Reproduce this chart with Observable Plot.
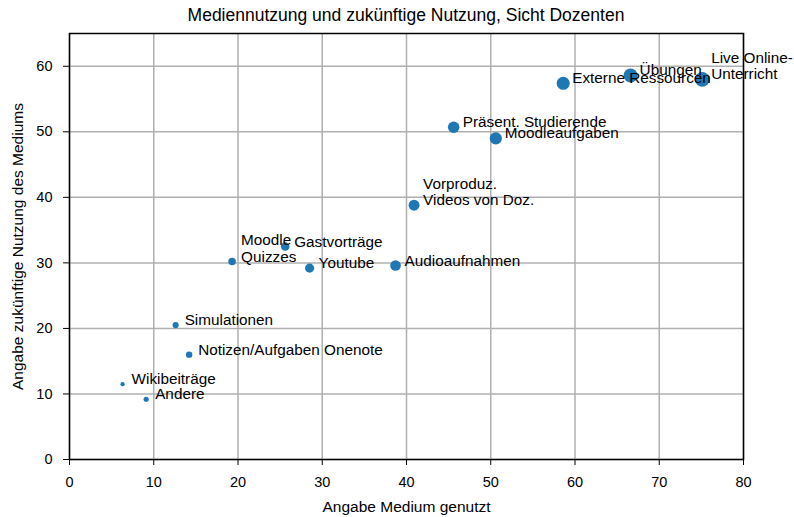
<!DOCTYPE html>
<html>
<head>
<meta charset="utf-8">
<script src="https://cdn.jsdelivr.net/npm/d3@7"></script>
<script src="https://cdn.jsdelivr.net/npm/@observablehq/plot@0.6"></script>
<style>
  html, body { margin: 0; padding: 0; background: #fff; }
  body { width: 794px; height: 517px; overflow: hidden; font-family: "Liberation Sans", Arial, sans-serif; }
  #title { height: 26px; line-height: 30px; padding-left: 18px; box-sizing: border-box; text-align: center; font-size: 17.5px; color: #000; }
</style>
</head>
<body>
<div id="title">Mediennutzung und zukünftige Nutzung, Sicht Dozenten</div>
<div id="chart"></div>
<script>
const media = ["Live Online-\nUnterricht", "Übungen", "Externe Ressourcen", "Präsent. Studierende", "Moodleaufgaben",
  "Vorproduz.\nVideos von Doz.", "Audioaufnahmen", "Youtube", "Gastvorträge", "Moodle\nQuizzes",
  "Simulationen", "Notizen/Aufgaben Onenote", "Wikibeiträge", "Andere"];
const usedNow = [75.1, 66.6, 58.6, 45.6, 50.6, 40.9, 38.7, 28.5, 25.6, 19.3, 12.6, 14.2, 6.3, 9.1];
const futureUse = [58.0, 58.6, 57.4, 50.7, 49.0, 38.8, 29.6, 29.2, 32.5, 30.2, 20.5, 16.0, 11.5, 9.2];
const xTicks = [0, 10, 20, 30, 40, 50, 60, 70, 80];
const yTicks = [0, 10, 20, 30, 40, 50, 60];
const xLabel = "Angabe Medium genutzt";
const yLabel = "Angabe zukünftige Nutzung des Mediums";

const data = media.map((m, i) => ({ label: m, x: usedNow[i], y: futureUse[i] }));

const chart = Plot.plot({
  width: 794,
  height: 491,
  marginLeft: 69,
  marginRight: 51,
  marginTop: 7,
  marginBottom: 58,
  style: { fontFamily: "'Liberation Sans', Arial, sans-serif", fontSize: "14.5px", color: "#000", background: "#fff" },
  x: { domain: [0, 80] },
  y: { domain: [0, 65] },
  r: { type: "sqrt", domain: [0, 75], range: [0, 7.4] },
  marks: [
    Plot.gridX(xTicks, { stroke: "#b0b0b0", strokeOpacity: 1, strokeWidth: 1.5 }),
    Plot.gridY(yTicks, { stroke: "#b0b0b0", strokeOpacity: 1, strokeWidth: 1.5 }),
    Plot.frame({ stroke: "#000", strokeWidth: 1.5 }),
    Plot.axisX(xTicks, { tickSize: 6, tickPadding: 11, fontSize: 14.5, label: null }),
    Plot.axisY(yTicks, { tickSize: 6, tickPadding: 11, fontSize: 14.5, label: null }),
    Plot.text([xLabel], { frameAnchor: "bottom", dy: 52, textAnchor: "middle", lineAnchor: "bottom", fontSize: 15.5, fill: "#000" }),
    Plot.text([yLabel], { frameAnchor: "left", dx: -51, rotate: -90, textAnchor: "middle", lineAnchor: "middle", fontSize: 15.5, fill: "#000" }),
    Plot.dot(data, { x: "x", y: "y", r: "x", fill: "#1f77b4", stroke: "none" }),
    Plot.text(data, { x: "x", y: "y", text: "label", dx: 9, textAnchor: "start", lineAnchor: "bottom", lineHeight: 1.08, fontSize: 15.3, fill: "#000" })
  ]
});
document.getElementById("chart").appendChild(chart);
</script>
</body>
</html>
